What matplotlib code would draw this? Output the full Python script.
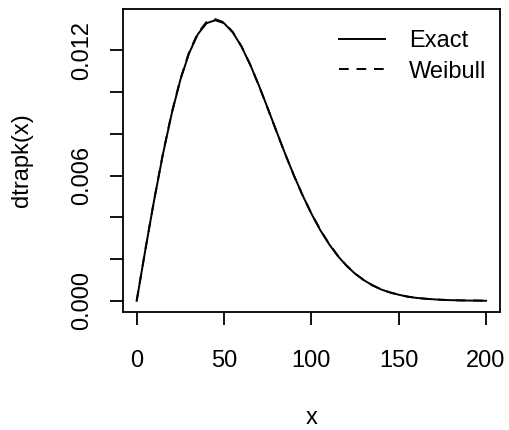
import numpy as np
import matplotlib.pyplot as plt

plt.rcParams['font.family'] = ['Liberation Sans', 'DejaVu Sans']

# values, every 5 units of x
x = np.arange(0, 205, 5)
exact = [0, 0.00246, 0.00482, 0.00701, 0.00895, 0.01058, 0.01186, 0.01277,
         0.01330, 0.01344, 0.01330, 0.01286, 0.01218, 0.01131, 0.01031, 0.00923,
         0.00813, 0.00704, 0.00601, 0.00505, 0.00418, 0.00340, 0.00273, 0.00216,
         0.00169, 0.00130, 0.00099, 0.00074, 0.00054, 0.00040, 0.00029, 0.00020,
         0.00014, 0.00010, 0.00007, 0.00004, 0.00003, 0.00002, 0.00001, 0.00001, 0.0]
weibull = [0, 0.00247, 0.00484, 0.00704, 0.00899, 0.01062, 0.01191, 0.01282,
           0.01336, 0.01349, 0.01334, 0.01288, 0.01219, 0.01131, 0.01030, 0.00922,
           0.00812, 0.00703, 0.00600, 0.00505, 0.00419, 0.00342, 0.00275, 0.00218,
           0.00170, 0.00131, 0.00099, 0.00074, 0.00055, 0.00040, 0.00029, 0.00020,
           0.00014, 0.00010, 0.00007, 0.00005, 0.00003, 0.00002, 0.00001, 0.00001, 0.0]

yticks = [0, 0.002, 0.004, 0.006, 0.008, 0.010, 0.012]
ylabels = ['0.000', '', '', '0.006', '', '', '0.012']
xticks = [0, 50, 100, 150, 200]

fig = plt.figure(figsize=(5.1, 4.3), dpi=100)
ax = fig.add_axes([0.2406, 0.2744, 0.7398, 0.7047])

ax.plot(x, exact, color='black', lw=1.4, label='Exact')
ax.plot(x, weibull, color='black', lw=1.4, linestyle=(0, (5, 4)), label='Weibull')

ax.set_xlim(-8, 208)
ax.set_ylim(-0.000538, 0.01398)
ax.set_xticks(xticks)
ax.set_yticks(yticks)
ax.set_yticklabels(ylabels, rotation=90, va='center')

for s in ax.spines.values():
    s.set_linewidth(1.3)
ax.tick_params(direction='out', length=9.5, width=1.3, labelsize=17)
ax.tick_params(axis='x', pad=18)
ax.tick_params(axis='y', pad=12)
ax.set_xlabel('x', fontsize=17, labelpad=25)
ax.set_ylabel('dtrapk(x)', fontsize=17, labelpad=27)

ax.legend(loc='upper left', bbox_to_anchor=(339 / 510, (430 - 30) / 430),
          bbox_transform=fig.transFigure, frameon=False, fontsize=17,
          handlelength=1.95, handletextpad=1.0, labelspacing=0.36,
          borderpad=0, borderaxespad=0)

fig.savefig('out.png', dpi=100)
